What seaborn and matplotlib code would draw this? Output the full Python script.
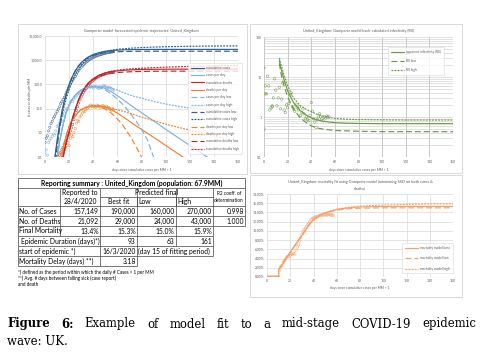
import matplotlib
matplotlib.use("Agg")
import matplotlib.pyplot as plt
import seaborn as sns
from matplotlib.patches import Rectangle
from matplotlib.ticker import FixedLocator, FuncFormatter, LogLocator, NullFormatter

sns.set_style("white")
plt.rcParams['font.family'] = ['Lato', 'DejaVu Sans']

# ---------------- data ----------------
# model curves, top-left chart (per MM)
model_days = [8, 9, 10, 12, 14, 16, 18, 20, 22, 25, 28, 30, 33, 36, 40, 45, 50, 55, 60, 65,
              70, 75, 80, 85, 90, 95, 100, 110, 120, 130, 140, 150, 160]
cum_cases_best = [0.074, 0.195, 0.47, 2.1, 7.5, 21, 49, 100, 179, 356, 598, 782, 1077, 1367, 1719,
                  2071, 2323, 2494, 2607, 2679, 2724, 2753, 2771, 2782, 2789, 2793, 2796, 2799,
                  2800, 2800, 2800, 2800, 2800]
cum_cases_low = [0.03, 0.091, 0.25, 1.43, 5.8, 18, 45, 96, 176, 355, 592, 768, 1041, 1297, 1592,
                 1869, 2054, 2173, 2246, 2290, 2317, 2332, 2342, 2348, 2351, 2353, 2354, 2355,
                 2356, 2356, 2356, 2356, 2356]
cum_cases_high = [0.079, 0.18, 0.39, 1.52, 4.85, 13.1, 30.5, 62.7, 116, 246, 446, 616, 917, 1254,
                  1650, 2000, 2350, 2600, 2820, 2970, 3100, 3220, 3320, 3410, 3480, 3545, 3600,
                  3690, 3760, 3810, 3850, 3880, 3900]
cases_day_best = [0.02, 0.05, 0.1, 0.4, 1.3, 3.5, 8, 14, 22, 35, 50, 58, 70, 78, 83, 81, 68, 50,
                  34, 23, 15, 10, 6.8, 4.6, 3.1, 2.1, 1.4, 0.65, 0.3, 0.14, 0.065, 0.03, 0.014]
cases_day_low = [0.02, 0.05, 0.1, 0.4, 1.3, 3.5, 8, 14, 22, 35, 50, 58, 70, 77, 80, 74, 58, 40,
                 25, 14, 7, 3.3, 1.4, 0.5, 0.1, 0.02, 0.004, 0.001, 0.001, 0.001, 0.001, 0.001, 0.001]
cases_day_high = [0.02, 0.05, 0.1, 0.4, 1.3, 3.5, 8, 14, 22, 35, 50, 58, 70, 78, 84, 85, 81, 71,
                  58, 46, 37, 31, 27, 23, 20, 17.5, 15.5, 12.5, 10.5, 9.2, 8.3, 7.7, 7.2]
cum_deaths_best = [0.001, 0.002, 0.005, 0.02, 0.06, 0.18, 0.5, 1.1, 3, 9, 25, 40, 75, 115, 170,
                   240, 295, 335, 362, 382, 396, 406, 413, 418, 421, 423, 425, 426, 427, 427,
                   427, 427, 427]
cum_deaths_low = [0.001, 0.002, 0.005, 0.02, 0.06, 0.18, 0.5, 1.1, 3, 9, 24, 38, 71, 108, 160,
                  215, 258, 288, 308, 322, 332, 339, 344, 347, 349, 351, 352, 353, 353, 353,
                  353, 353, 353]
cum_deaths_high = [0.001, 0.002, 0.004, 0.015, 0.05, 0.15, 0.42, 1.0, 2.8, 8.5, 24, 39, 74, 116,
                   172, 245, 305, 350, 385, 412, 433, 450, 466, 480, 493, 505, 516, 536, 554,
                   570, 584, 596, 607]
deaths_day_best = [0.005, 0.01, 0.02, 0.05, 0.11, 0.35, 0.9, 1.8, 3, 5, 7.5, 9, 10.8, 12, 12.8,
                   12.6, 11.5, 9, 6.5, 4.5, 3, 2.0, 1.4, 0.95, 0.65, 0.45, 0.3, 0.14, 0.065,
                   0.03, 0.014, 0.006, 0.003]
deaths_day_low = [0.005, 0.01, 0.02, 0.05, 0.11, 0.35, 0.9, 1.8, 3, 5, 7.5, 9, 10.8, 12, 12.5,
                  11.8, 9.5, 6.5, 3.8, 1.9, 0.8, 0.3, 0.1, 0.03, 0.01, 0.003, 0.001, 0.001,
                  0.001, 0.001, 0.001, 0.001, 0.001]
deaths_day_high = [0.005, 0.01, 0.02, 0.05, 0.11, 0.35, 0.9, 1.8, 3, 5, 7.5, 9, 10.8, 12, 12.9,
                   13, 12, 10.5, 9, 7.7, 6.5, 5.4, 4.5, 3.8, 3.2, 2.7, 2.3, 1.7, 1.3, 1.0, 0.75,
                   0.55, 0.42]

# reported data, top-left chart
obs_days = list(range(0, 58))
cum_cases_obs = [0.4, 0.6, 0.75, 1.2, 1.7, 2.4, 3.0, 4.0, 4.8, 6.0,
                 7.6, 9.4, 12, 16, 19, 24, 29, 38, 48, 60,
                 80, 100, 125, 150, 180, 210, 260, 320, 380, 450,
                 520, 590, 660, 740, 820, 900, 980, 1060, 1140, 1220,
                 1300, 1370, 1440, 1510, 1580, 1640, 1700, 1760, 1820, 1880,
                 1930, 1980, 2030, 2080, 2130, 2180, 2220, 2260]
cases_day_obs = [0.15, 0.2, 0.12, 0.4, 0.5, 0.6, 0.7, 0.9, 0.8, 1.2,
                 1.8, 2.0, 2.5, 3.5, 3.0, 5, 6, 8, 10, 9.5,
                 14, 18, 22, 20, 25, 30, 33, 40, 43, 38,
                 45, 55, 60, 58, 65, 75, 80, 72, 85, 78,
                 70, 80, 83, 75, 70, 68, 78, 74, 80, 90,
                 85, 70, 72, 78, 72, 68, 60, 58]
death_days = list(range(11, 58))
cum_deaths_obs = [0.1, 0.12, 0.15, 0.2, 0.25, 0.35, 0.45, 0.6, 0.75,
                  0.9, 1.2, 1.6, 2.2, 3.5, 5.5, 8.5, 12, 17, 23,
                  30, 38, 47, 57, 68, 80, 93, 106, 120, 134,
                  148, 162, 176, 190, 203, 216, 228, 240, 251, 262,
                  272, 281, 290, 298, 305, 312, 318, 324]
deaths_day_obs = [0.1, 0.15, 0.1, 0.2, 0.12, 0.2, 0.25, 0.3, 0.4,
                  0.3, 0.6, 0.8, 0.7, 1.0, 1.5, 2.5, 3.3, 3.0, 4.5,
                  5.5, 6.5, 8, 7.5, 9, 10, 11.5, 13, 14, 12,
                  13.5, 12, 11, 14, 13, 12.5, 11, 12, 13.5, 12,
                  11, 12.5, 10.5, 11, 9, 8.5, 10, 9]

# infectivity chart
r0_model_days = [13, 14, 15, 17, 20, 25, 30, 35, 40, 45, 50, 60, 70, 80, 100, 120, 140, 160]
r0_best = [26, 18, 14, 8.5, 4.5, 2.3, 1.5, 1.15, 0.95, 0.85, 0.78, 0.72, 0.7, 0.69, 0.68, 0.68, 0.68, 0.68]
r0_low = [22, 14, 10, 6, 3.2, 1.6, 1.0, 0.75, 0.6, 0.53, 0.5, 0.46, 0.45, 0.44, 0.43, 0.43, 0.43, 0.43]
r0_high = [30, 22, 18, 11, 6, 3, 2, 1.6, 1.35, 1.17, 1.05, 0.92, 0.88, 0.86, 0.85, 0.84, 0.84, 0.84]
r0_days = [0, 0, 1, 1, 2, 3, 4, 5, 6, 7, 7] + list(range(8, 56))
r0_obs = [17, 0.5, 3.8, 6, 3.8, 10.5, 6, 1.5, 1.7, 1.8, 1.9,
          3, 9, 4.7, 1.9, 3, 5.5, 1.6, 2.8, 7, 1.5,
          1.3, 2, 1.7, 2.2, 3.5, 4, 1.8, 1.6, 1.4, 2.0,
          1.7, 1.5, 1.8, 1.1, 1.3, 1.6, 1.2, 0.9, 1.0, 0.85,
          0.8, 1.1, 2.3, 1.4, 0.9, 0.75, 0.55, 0.85, 1.0, 1.2,
          1.0, 0.9, 0.8, 1.0, 0.95, 1.05, 1.0, 1.0]

# mortality chart (%)
mort_days = [0, 5, 10, 10, 14, 18, 22, 26, 30, 34, 38, 42, 46, 50, 55, 60, 70, 80, 90, 100, 120, 140, 160]
mort_best = [0, 0, 0, 1.6, 3.1, 4.6, 6.1, 7.6, 9.0, 10.5, 11.9, 12.8, 13.4, 13.85, 14.3, 14.65,
             15.0, 15.2, 15.25, 15.28, 15.3, 15.3, 15.3]
mort_low = [0, 0, 0, 1.6, 3.1, 4.6, 6.1, 7.6, 9.0, 10.5, 11.9, 12.8, 13.4, 13.8, 14.2, 14.5,
            14.8, 14.92, 14.97, 15.0, 15.0, 15.0, 15.0]
mort_high = [0, 0, 0, 1.6, 3.1, 4.6, 6.1, 7.6, 9.0, 10.5, 11.9, 12.8, 13.45, 13.9, 14.35, 14.7,
             15.1, 15.35, 15.5, 15.6, 15.75, 15.85, 15.9]
mort_obs = [0] * 11 + [1.5, 2.2, 2.5, 3.2, 3.6, 3.9, 4.3, 4.5, 4.4,
                       4.8, 5.0, 4.9, 5.1, 5.0, 5.8, 6.5, 7.0, 7.8, 8.5,
                       9.2, 9.8, 10.3, 10.6, 11.0, 11.3, 11.6, 12.0, 12.4, 12.7,
                       12.8, 12.9, 13.1, 13.0, 13.2, 13.3, 13.4, 13.5, 13.3, 13.5,
                       13.6, 13.4, 13.5, 13.6, 13.5, 13.4, 13.5, 13.4]

# summary table
table_title = "Reporting summary : United_Kingdom (population: 67.9MM)"
row_names = ["No. of Cases", "No. of Deaths", "Final Mortality"]
reported = ["157,149", "21,092", "13.4%"]
best_fit = ["190,000", "29,000", "15.3%"]
low_fit = ["160,000", "24,000", "15.0%"]
high_fit = ["270,000", "43,000", "15.9%"]
r2 = ["0.998", "1.000", ""]
duration = ["93", "63", "161"]
notes = ["*) defined as the period within which the daily # Cases < 1 per MM",
         "**) Avg. # days between falling sick (case report)",
         "and death"]

# ---------------- styling ----------------
C_CUM = '#2F5F8F'
C_DAY = '#7FB2DD'
C_DTH = '#C0282D'
C_DDAY = '#EE8332'
C_R0 = '#6A9A45'
C_MORT = '#F2A36B'
GREY = '#595959'
LOW = (0, (5, 2.5))
HIGH = (0, (1.6, 1.0))

W, H = 490, 361
fig = plt.figure(figsize=(4.9, 3.61), dpi=100)


def px_axes(x0, y0, x1, y1):
    return fig.add_axes([x0 / W, 1 - y1 / H, (x1 - x0) / W, (y1 - y0) / H])


canvas = px_axes(0, 0, W, H)
canvas.set_xlim(0, W)
canvas.set_ylim(H, 0)
canvas.axis('off')

for (x0, y0, x1, y1) in [(18, 24, 247, 174), (250, 24, 462, 173), (250, 175, 462, 297)]:
    canvas.add_patch(Rectangle((x0, y0), x1 - x0, y1 - y0, fill=False, ec='#D9D9D9', lw=0.7))


def draw_line(ax, x, y, color, ls, label, lw=0.85):
    sns.lineplot(x=x, y=y, ax=ax, color=color, linestyle=ls, linewidth=lw,
                 estimator=None, sort=False, label=label, legend=False)


def draw_obs(ax, x, y, color, s=2.6):
    sns.scatterplot(x=x, y=y, ax=ax, marker='o', s=s, color=color, linewidth=0.35, legend=False)
    coll = ax.collections[-1]
    coll.set_facecolor('none')
    coll.set_edgecolor(color)


def base_style(ax):
    for s in ax.spines.values():
        s.set_visible(False)
    ax.tick_params(length=0, labelsize=2.4, labelcolor=GREY, pad=1.8)
    ax.set_xlim(0, 160)
    ax.xaxis.set_major_locator(FixedLocator(range(0, 161, 20)))


def make_legend(ax, order, anchor, spacing):
    h, l = ax.get_legend_handles_labels()
    d = dict(zip(l, h))
    leg = ax.legend([d[k] for k in order], order, loc='upper left', bbox_to_anchor=anchor,
                    fontsize=2.3, frameon=True, fancybox=False, edgecolor='#D9D9D9',
                    handlelength=4.2, handletextpad=0.6, labelspacing=spacing,
                    borderpad=0.9, borderaxespad=0)
    leg.get_frame().set_linewidth(0.5)
    for t in leg.get_texts():
        t.set_color(GREY)


# ---------------- top-left: trajectories ----------------
ax1 = px_axes(45, 36, 238, 157)
ax1.set_yscale('log')
draw_obs(ax1, obs_days, cum_cases_obs, C_CUM)
draw_obs(ax1, obs_days, cases_day_obs, C_DAY)
draw_obs(ax1, death_days, cum_deaths_obs, C_DTH)
draw_obs(ax1, death_days, deaths_day_obs, C_DDAY)
draw_line(ax1, model_days, cum_cases_best, C_CUM, '-', 'cumulative cases')
draw_line(ax1, model_days, cases_day_best, C_DAY, '-', 'cases per day')
draw_line(ax1, model_days, cum_deaths_best, C_DTH, '-', 'cumulative deaths')
draw_line(ax1, model_days, deaths_day_best, C_DDAY, '-', 'deaths per day')
draw_line(ax1, model_days, cases_day_low, C_DAY, LOW, 'cases per day low')
draw_line(ax1, model_days, cases_day_high, C_DAY, HIGH, 'cases per day high')
draw_line(ax1, model_days, cum_cases_low, C_CUM, LOW, 'cumulative cases low')
draw_line(ax1, model_days, cum_cases_high, C_CUM, HIGH, 'cumulative cases high')
draw_line(ax1, model_days, deaths_day_low, C_DDAY, LOW, 'deaths per day low')
draw_line(ax1, model_days, deaths_day_high, C_DDAY, HIGH, 'deaths per day high')
draw_line(ax1, model_days, cum_deaths_low, C_DTH, LOW, 'cumulative deaths low')
draw_line(ax1, model_days, cum_deaths_high, C_DTH, HIGH, 'cumulative deaths high')
base_style(ax1)
ax1.set_ylim(0.1, 10000)
ax1.yaxis.set_major_locator(FixedLocator([0.1, 1, 10, 100, 1000, 10000]))
ax1.yaxis.set_major_formatter(FuncFormatter(lambda v, p: f"{v:,.1f}"))
ax1.yaxis.set_minor_formatter(NullFormatter())
ax1.grid(True, which='major', color='#D9D9D9', lw=0.5)
ax1.set_title("Gompertz: model-forecasted epidemic trajectories: United_Kingdom",
              fontsize=2.8, color=GREY, pad=3)
ax1.set_xlabel("days since cumulative cases per MM > 1", fontsize=2.4, color=GREY)
ax1.set_ylabel("# cases or deaths per MM", fontsize=2.4, color=GREY)
ax1.xaxis.set_label_coords(0.5, -0.09)
ax1.yaxis.set_label_coords(-0.067, 0.5)
make_legend(ax1, ["cumulative cases", "cases per day", "cumulative deaths", "deaths per day",
                  "cases per day low", "cases per day high", "cumulative cases low",
                  "cumulative cases high", "deaths per day low", "deaths per day high",
                  "cumulative deaths low", "cumulative deaths high"],
            (0.741, 0.777), 1.05)

# ---------------- top-right: infectivity ----------------
ax2 = px_axes(264, 37, 453, 157)
ax2.set_yscale('log')
draw_obs(ax2, r0_days, r0_obs, C_R0, s=3.2)
draw_line(ax2, r0_model_days, r0_best, C_R0, '-', 'apparent infectivity (R0)')
draw_line(ax2, r0_model_days, r0_low, C_R0, LOW, 'R0 low')
draw_line(ax2, r0_model_days, r0_high, C_R0, HIGH, 'R0 high')
base_style(ax2)
ax2.set_ylim(0.1, 100)
ax2.yaxis.set_major_locator(FixedLocator([0.1, 1, 10, 100]))
ax2.yaxis.set_major_formatter(FuncFormatter(lambda v, p: f"{v:g}"))
ax2.yaxis.set_minor_locator(LogLocator(base=10, subs=range(2, 10)))
ax2.yaxis.set_minor_formatter(NullFormatter())
ax2.tick_params(which='minor', length=0)
ax2.grid(True, axis='y', which='both', color='#D0D0D0', lw=0.45)
ax2.grid(True, axis='x', which='major', color='#BFBFBF', lw=0.6)
ax2.set_title("United_Kingdom: Gompertz model back-calculated infectivity (R0)",
              fontsize=2.8, color=GREY, pad=3.5)
ax2.set_xlabel("days since cumulative cases per MM > 1", fontsize=2.4, color=GREY)
ax2.xaxis.set_label_coords(0.5, -0.088)
make_legend(ax2, ["apparent infectivity (R0)", "R0 low", "R0 high"], (0.656, 0.917), 1.6)

# ---------------- bottom-right: mortality ----------------
ax3 = px_axes(267, 194, 453, 277)
draw_obs(ax3, obs_days, mort_obs, C_MORT, s=3.2)
draw_line(ax3, mort_days, mort_best, C_MORT, '-', 'mortality model best')
draw_line(ax3, mort_days, mort_low, C_MORT, LOW, 'mortality model low')
draw_line(ax3, mort_days, mort_high, C_MORT, HIGH, 'mortality model high')
base_style(ax3)
ax3.set_ylim(0, 18)
ax3.yaxis.set_major_locator(FixedLocator(range(0, 19, 2)))
ax3.yaxis.set_major_formatter(FuncFormatter(lambda v, p: f"{v:.2f}%"))
ax3.grid(True, which='major', color='#D9D9D9', lw=0.5)
ax3.set_title("United_Kingdom: mortality fit using Gompertz model (minimizing SSD on both cases &\ndeaths)",
              fontsize=2.8, color=GREY, pad=3.5, linespacing=1.6)
ax3.set_xlabel("days since cumulative cases per MM > 1", fontsize=2.4, color=GREY)
ax3.xaxis.set_label_coords(0.5, -0.114)
make_legend(ax3, ["mortality model best", "mortality model low", "mortality model high"],
            (0.726, 0.41), 2.0)

# ---------------- table ----------------
cols = [18, 60, 100, 137, 176, 213, 245]
TF = 4.9
LC = '#404040'


def hline(y, x0, x1):
    canvas.plot([x0, x1], [y, y], color=LC, lw=0.5, solid_capstyle='butt')


def vline(x, y0, y1):
    canvas.plot([x, x], [y0, y1], color=LC, lw=0.5, solid_capstyle='butt')


def cell(x, y, s, ha='left', **kw):
    canvas.text(x, y, s, ha=ha, va='center', fontsize=kw.pop('size', TF), color='black', **kw)


top, tb, hm, hb = 178, 188, 197, 206
rh = 10
hline(top, cols[0], cols[6])
hline(tb, cols[0], cols[6])
for x in cols:
    vline(x, top if x in (cols[0], cols[6]) else tb, hb)
hline(hm, cols[2], cols[5])
for x in (cols[3], cols[4]):
    vline(x, hm, hb)
hline(hb, cols[0], cols[6])
cell(131.5, (top + tb) / 2, table_title, ha='center', weight='bold')
cell((cols[1] + cols[2]) / 2, (tb + hm) / 2, "Reported to", ha='center')
cell((cols[1] + cols[2]) / 2, (hm + hb) / 2, "28/4/2020", ha='center')
cell((cols[2] + cols[5]) / 2, (tb + hm) / 2, "Predicted final", ha='center')
cell((cols[2] + cols[3]) / 2, (hm + hb) / 2, "Best fit", ha='center')
cell(cols[3] + 1.5, (hm + hb) / 2, "Low")
cell(cols[4] + 1.5, (hm + hb) / 2, "High")
cell((cols[5] + cols[6]) / 2, (tb + hb) / 2, "R2 coeff. of\ndetermination", ha='center',
     size=3.4, linespacing=1.4)

for i, name in enumerate(row_names):
    y0 = hb + i * rh
    y1 = y0 + rh
    right = cols[6] if r2[i] else cols[5]
    hline(y1, cols[0], right)
    for x in cols:
        if x <= right:
            vline(x, y0, y1)
    yc = (y0 + y1) / 2
    cell(cols[0] + 1.2, yc, name)
    for j, v in enumerate([reported[i], best_fit[i], low_fit[i], high_fit[i], r2[i]]):
        cell(cols[j + 2] - 1.2, yc, v, ha='right')

# epidemic duration row
y0 = hb + 3 * rh
y1 = y0 + rh
hline(y1, cols[0], cols[5])
for x in (cols[0], cols[2], cols[3], cols[4], cols[5]):
    vline(x, y0, y1)
cell(cols[0] + 2.5, (y0 + y1) / 2, "Epidemic Duration (days)*)")
for j, v in enumerate(duration):
    cell(cols[j + 3] - 1.2, (y0 + y1) / 2, v, ha='right')

# start of epidemic row
y0, y1 = y1, y1 + rh
hline(y1, cols[0], cols[5])
for x in (cols[0], cols[2], cols[3], cols[5]):
    vline(x, y0, y1)
cell(cols[0] + 1.2, (y0 + y1) / 2, "start of epidemic *)")
cell(cols[3] - 1.2, (y0 + y1) / 2, "16/3/2020", ha='right')
cell(cols[3] + 1, (y0 + y1) / 2, "(day 15 of fitting period)")

# mortality delay row
y0, y1 = y1, y1 + rh
hline(y1, cols[0], cols[3])
for x in (cols[0], cols[2], cols[3]):
    vline(x, y0, y1)
cell(cols[0] + 1.2, (y0 + y1) / 2, "Mortality Delay (days) **)")
cell(cols[3] - 1.2, (y0 + y1) / 2, "3.18", ha='right')

for k, line in enumerate(notes):
    cell(18, y1 + 6 + k * 6.5, line, size=3.3)

# ---------------- caption ----------------
renderer = fig.canvas.get_renderer()
cap_words = ["Figure", "6:", "Example", "of", "model", "fit", "to", "a", "mid-stage",
             "COVID-19", "epidemic"]
cap_bold = [True, True] + [False] * 9
texts = [canvas.text(0, 327.5, w, fontsize=8.4, family='DejaVu Serif', va='baseline',
                     weight='bold' if b else 'normal', color='black')
         for w, b in zip(cap_words, cap_bold)]
widths = [t.get_window_extent(renderer).width for t in texts]
gap = (476 - 7 - sum(widths)) / (len(texts) - 1)
x = 7
for t, w in zip(texts, widths):
    t.set_x(x)
    x += w + gap
canvas.text(7, 345, "wave: UK.", fontsize=8.4, family='DejaVu Serif', va='baseline', color='black')

fig.savefig("out.png", dpi=100)
